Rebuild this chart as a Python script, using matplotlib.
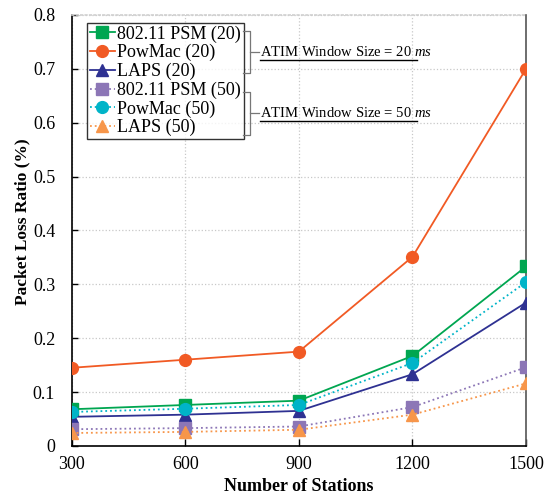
import matplotlib
matplotlib.use("Agg")
import matplotlib.pyplot as plt
from matplotlib.lines import Line2D

plt.rcParams['font.family'] = ['Liberation Serif', 'DejaVu Serif']
plt.rcParams['mathtext.fontset'] = 'custom'
plt.rcParams['mathtext.rm'] = 'Liberation Serif'
plt.rcParams['mathtext.it'] = 'Liberation Serif:italic'

stations = [300, 600, 900, 1200, 1500]
psm_20 = [0.068, 0.076, 0.084, 0.167, 0.333]
powmac_20 = [0.145, 0.160, 0.175, 0.351, 0.700]
laps_20 = [0.054, 0.058, 0.065, 0.133, 0.266]
psm_50 = [0.031, 0.033, 0.036, 0.072, 0.146]
powmac_50 = [0.063, 0.069, 0.076, 0.154, 0.304]
laps_50 = [0.024, 0.026, 0.030, 0.058, 0.116]

labels = ['802.11 PSM (20)', 'PowMac (20)', 'LAPS (20)',
          '802.11 PSM (50)', 'PowMac (50)', 'LAPS (50)']
colors = ['#00a651', '#f15a24', '#2e3192', '#8c76b6', '#00b4c8', '#f7964a']
markers = ['s', 'o', '^', 's', 'o', '^']
styles = ['-', '-', '-', ':', ':', ':']
series = [psm_20, powmac_20, laps_20, psm_50, powmac_50, laps_50]

fig = plt.figure(figsize=(5.44, 4.96), dpi=100)
ax = fig.add_axes([0.132, 0.101, 0.835, 0.869])

for y, lab, c, m, ls in zip(series, labels, colors, markers, styles):
    ax.plot(stations, y, linestyle=ls, color=c, marker=m, markersize=8.5,
            linewidth=1.3, label=lab, zorder=3)

ax.set_xlim(300, 1500)
ax.set_ylim(0, 0.8)
ax.set_xticks(stations)
ax.set_yticks([0, 0.1, 0.2, 0.3, 0.4, 0.5, 0.6, 0.7, 0.8])
ax.set_yticklabels(['0', '0.1', '0.2', '0.3', '0.4', '0.5', '0.6', '0.7', '0.8'])
ax.tick_params(axis='both', labelsize=13, direction='in', length=4, width=1)
ax.tick_params(axis='y', pad=12)
ax.tick_params(axis='x', pad=7, length=5)
ax.grid(True, linestyle=':', color='#c8c8c8', linewidth=0.9)
ax.set_axisbelow(True)
ax.spines['left'].set_color('black')
ax.spines['bottom'].set_color('black')
ax.spines['right'].set_color('#555555')
ax.spines['top'].set_color('#d0d0d0')
ax.spines['top'].set_linestyle(':')
for s in ax.spines.values():
    s.set_linewidth(1.2)

ax.set_xlabel('Number of Stations', fontsize=13, fontweight='bold', labelpad=4)
ax.set_ylabel('Packet Loss Ratio (%)', fontsize=12.5, fontweight='bold', labelpad=4)
ax.yaxis.set_label_coords(-0.092, 0.52)

leg = ax.legend(loc='upper left', bbox_to_anchor=(0.033, 0.982), fontsize=13,
                frameon=True, fancybox=False, handlelength=1.4,
                handletextpad=0.15, borderpad=0.15, labelspacing=0.08,
                borderaxespad=0)
leg.get_frame().set_edgecolor('black')
leg.get_frame().set_linewidth(1.0)

# group brackets beside the legend
W, H = 544.0, 496.0
def px(x, y):
    return x / W, 1 - y / H

def bracket(top, bottom, mid, text):
    gray = '#777777'
    pts = [px(243, top), px(250, top), px(250, bottom), px(243, bottom)]
    fig.add_artist(Line2D([p[0] for p in pts], [p[1] for p in pts],
                          color=gray, linewidth=0.9))
    a, b = px(250, mid), px(259, mid)
    fig.add_artist(Line2D([a[0], b[0]], [a[1], b[1]], color=gray, linewidth=0.9))
    tx, ty = px(260, mid)
    fig.text(tx, ty, text, fontsize=10.5, va='center', ha='left')
    u0, u1 = px(260, mid + 7.5), px(417, mid + 7.5)
    fig.add_artist(Line2D([u0[0], u1[0]], [u0[1], u1[1]], color='black', linewidth=1.0))

bracket(31, 73, 52, 'ATIM Window Size = 20 $\\it{ms}$')
bracket(92, 135, 113, 'ATIM Window Size = 50 $\\it{ms}$')

fig.savefig('out.png', dpi=100)
